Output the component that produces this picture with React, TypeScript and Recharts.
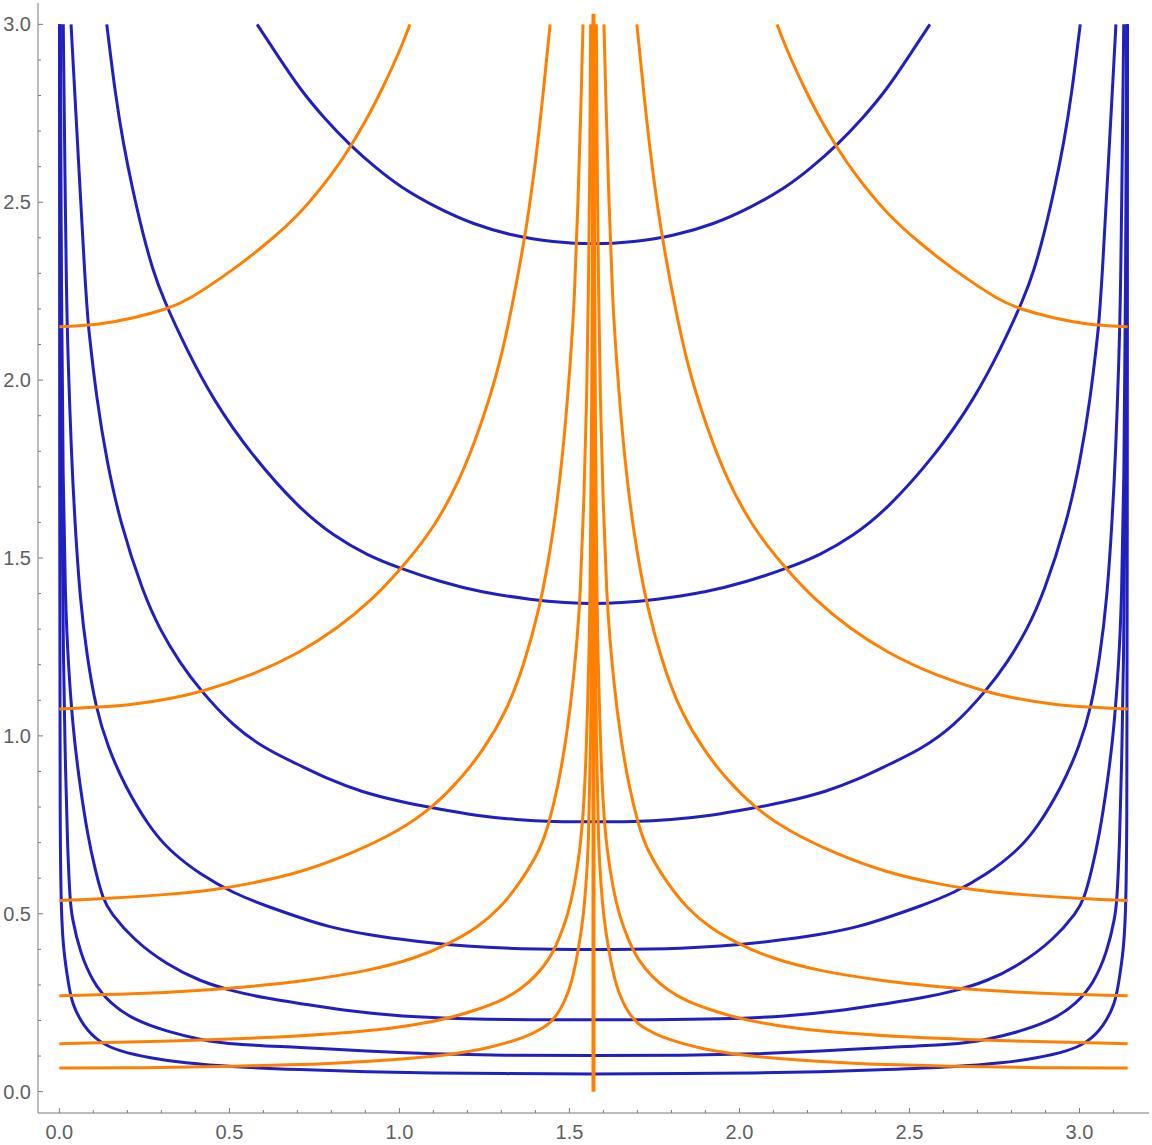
import React from 'react';
import { LineChart, Line, XAxis, YAxis } from 'recharts';

// ---------- axis ranges & ticks ----------
const X_DOMAIN: [number, number] = [-0.0628, 3.2044];
const Y_DOMAIN: [number, number] = [-0.06, 3.06];
const X_TICKS = [0, 0.1, 0.2, 0.3, 0.4, 0.5, 0.6, 0.7, 0.8, 0.9, 1.0, 1.1, 1.2, 1.3, 1.4, 1.5, 1.6, 1.7, 1.8, 1.9, 2.0, 2.1, 2.2, 2.3, 2.4, 2.5, 2.6, 2.7, 2.8, 2.9, 3.0, 3.1];
const Y_TICKS = [0, 0.1, 0.2, 0.3, 0.4, 0.5, 0.6, 0.7, 0.8, 0.9, 1.0, 1.1, 1.2, 1.3, 1.4, 1.5, 1.6, 1.7, 1.8, 1.9, 2.0, 2.1, 2.2, 2.3, 2.4, 2.5, 2.6, 2.7, 2.8, 2.9, 3.0];
const MAJOR_LABELS = ['0.0', '0.5', '1.0', '1.5', '2.0', '2.5', '3.0'];

// ---------- blue contours (x, y) ----------
const blue1 = [[0.0005,3.0],[0.001,1.5],[0.002,0.68],[0.006,0.5],[0.0118,0.399],[0.0265,0.305],[0.0365,0.249],[0.0706,0.1834],[0.1197,0.1368],[0.1785,0.1132],[0.2668,0.0947],[0.3647,0.0806],[0.5118,0.0694],[0.708,0.0618],[0.904,0.0553],[1.1,0.0525],[1.3,0.0505],[1.5708,0.0497],[1.8416,0.0505],[2.0416,0.0525],[2.2376,0.0553],[2.4336,0.0618],[2.6298,0.0694],[2.7769,0.0806],[2.8748,0.0947],[2.9631,0.1132],[3.0219,0.1368],[3.071,0.1834],[3.1051,0.249],[3.1151,0.305],[3.1298,0.399],[3.1356,0.5],[3.1396,0.68],[3.1406,1.5],[3.1411,3.0]];
const blue2 = [[0.0015,3.0],[0.004,2.2],[0.008,1.6],[0.012,1.2],[0.017,0.95],[0.0241,0.68],[0.0315,0.539],[0.0365,0.492],[0.0609,0.39],[0.1,0.305],[0.149,0.249],[0.2176,0.202],[0.316,0.169],[0.414,0.146],[0.512,0.132],[0.708,0.125],[0.904,0.1132],[1.1,0.1059],[1.296,0.102],[1.5708,0.101],[1.8456,0.102],[2.0416,0.1059],[2.2376,0.1132],[2.4336,0.125],[2.6296,0.132],[2.7276,0.146],[2.8256,0.169],[2.924,0.202],[2.9926,0.249],[3.0416,0.305],[3.0807,0.39],[3.1051,0.492],[3.1101,0.539],[3.1175,0.68],[3.1246,0.95],[3.1296,1.2],[3.1336,1.6],[3.1376,2.2],[3.1401,3.0]];
const blue3 = [[0.003,3.0],[0.006,2.225],[0.011,1.7],[0.0175,1.382],[0.0265,1.195],[0.0412,1.008],[0.0609,0.858],[0.083,0.722],[0.105,0.624],[0.129,0.539],[0.149,0.505],[0.2176,0.427],[0.316,0.357],[0.414,0.31],[0.512,0.282],[0.61,0.262],[0.708,0.248],[0.855,0.226],[1.002,0.2115],[1.198,0.204],[1.394,0.202],[1.5708,0.202],[1.7476,0.202],[1.9436,0.204],[2.1396,0.2115],[2.2866,0.226],[2.4336,0.248],[2.5316,0.262],[2.6296,0.282],[2.7276,0.31],[2.8256,0.357],[2.924,0.427],[2.9926,0.505],[3.0126,0.539],[3.0366,0.624],[3.0586,0.722],[3.0807,0.858],[3.1004,1.008],[3.1151,1.195],[3.1241,1.382],[3.1306,1.7],[3.1356,2.225],[3.1386,3.0]];
const blue4 = [[0.0115,3.0],[0.0205,2.225],[0.0265,2.037],[0.035,1.803],[0.0447,1.616],[0.0609,1.382],[0.0815,1.223],[0.1065,1.082],[0.1418,0.97],[0.1932,0.858],[0.2638,0.745],[0.3206,0.68],[0.414,0.61],[0.512,0.558],[0.61,0.521],[0.708,0.489],[0.7865,0.4643],[0.904,0.441],[1.051,0.422],[1.198,0.408],[1.345,0.401],[1.5708,0.399],[1.7966,0.401],[1.9436,0.408],[2.0906,0.422],[2.2376,0.441],[2.3551,0.4643],[2.4336,0.489],[2.5316,0.521],[2.6296,0.558],[2.7276,0.61],[2.821,0.68],[2.8778,0.745],[2.9484,0.858],[2.9998,0.97],[3.0351,1.082],[3.0601,1.223],[3.0807,1.382],[3.0969,1.616],[3.1066,1.803],[3.1151,2.037],[3.1211,2.225],[3.1301,3.0]];
const blue5 = [[0.0344,3.0],[0.0785,2.225],[0.0853,2.15],[0.11,1.944],[0.139,1.775],[0.1785,1.6],[0.247,1.4],[0.296,1.298],[0.355,1.204],[0.414,1.129],[0.512,1.026],[0.61,0.961],[0.708,0.917],[0.797,0.876],[0.884,0.844],[1.002,0.815],[1.1,0.797],[1.228,0.775],[1.345,0.764],[1.453,0.759],[1.5708,0.758],[1.6886,0.759],[1.7966,0.764],[1.9136,0.775],[2.0416,0.797],[2.1396,0.815],[2.2576,0.844],[2.3446,0.876],[2.4336,0.917],[2.5316,0.961],[2.6296,1.026],[2.7276,1.129],[2.7866,1.204],[2.8456,1.298],[2.8946,1.4],[2.9631,1.6],[3.0026,1.775],[3.0316,1.944],[3.0563,2.15],[3.0631,2.225],[3.1072,3.0]];
const blue6 = [[0.1394,3.0],[0.165,2.8],[0.188,2.665],[0.215,2.537],[0.247,2.405],[0.275,2.31],[0.303,2.234],[0.375,2.084],[0.453,1.944],[0.561,1.794],[0.708,1.636],[0.806,1.563],[0.904,1.508],[1.002,1.471],[1.12,1.433],[1.2374,1.404],[1.394,1.382],[1.49,1.374],[1.5708,1.371],[1.6516,1.374],[1.7476,1.382],[1.9042,1.404],[2.0216,1.433],[2.1396,1.471],[2.2376,1.508],[2.3356,1.563],[2.4336,1.636],[2.5806,1.794],[2.6886,1.944],[2.7666,2.084],[2.8386,2.234],[2.8666,2.31],[2.8946,2.405],[2.9266,2.537],[2.9536,2.665],[2.9766,2.8],[3.0022,3.0]];
const blue7 = [[0.5815,3.0],[0.64,2.915],[0.708,2.817],[0.78,2.735],[0.855,2.66],[0.93,2.597],[1.002,2.543],[1.11,2.484],[1.217,2.438],[1.335,2.405],[1.452,2.388],[1.5708,2.381],[1.6896,2.388],[1.8066,2.405],[1.9246,2.438],[2.0316,2.484],[2.1396,2.543],[2.2116,2.597],[2.2866,2.66],[2.3616,2.735],[2.4336,2.817],[2.5016,2.915],[2.5601,3.0]];

// ---------- orange contours (left and right branches) ----------
const orange1L = [[0,0.0666],[0.2176,0.0666],[0.4138,0.0694],[0.708,0.0758],[0.806,0.08],[0.904,0.085],[1.0512,0.0947],[1.1491,0.1039],[1.2471,0.1199],[1.3159,0.1368],[1.3747,0.1553],[1.4138,0.1742],[1.4403,0.191],[1.4629,0.215],[1.4844,0.2492],[1.5071,0.3053],[1.5265,0.3989],[1.5412,0.4924],[1.5491,0.5862],[1.5559,0.6798],[1.5624,0.9607],[1.5668,1.382],[1.5697,2.2247],[1.5703,3.0]];
const orange1R = [[1.5713,3.0],[1.5719,2.2247],[1.5748,1.382],[1.5792,0.9607],[1.5857,0.6798],[1.5925,0.5862],[1.6004,0.4924],[1.6151,0.3989],[1.6345,0.3053],[1.6572,0.2492],[1.6787,0.215],[1.7013,0.191],[1.7278,0.1742],[1.7669,0.1553],[1.8257,0.1368],[1.8945,0.1199],[1.9925,0.1039],[2.0904,0.0947],[2.2376,0.085],[2.3356,0.08],[2.4336,0.0758],[2.7278,0.0694],[2.924,0.0666],[3.1416,0.0666]];
const orange2L = [[0,0.1348],[0.3159,0.1413],[0.708,0.1553],[0.9041,0.1694],[1.0512,0.1882],[1.1491,0.207],[1.2276,0.2303],[1.2962,0.2537],[1.3547,0.2865],[1.4,0.3239],[1.4405,0.3708],[1.469,0.427],[1.494,0.4924],[1.513,0.5674],[1.5315,0.6798],[1.5423,0.8],[1.55,0.9607],[1.5579,1.2416],[1.5609,1.382],[1.5659,1.9438],[1.5685,2.5056],[1.5697,3.0]];
const orange2R = [[1.5719,3.0],[1.5731,2.5056],[1.5757,1.9438],[1.5807,1.382],[1.5837,1.2416],[1.5916,0.9607],[1.5993,0.8],[1.6101,0.6798],[1.6286,0.5674],[1.6476,0.4924],[1.6726,0.427],[1.7011,0.3708],[1.7416,0.3239],[1.7869,0.2865],[1.8454,0.2537],[1.914,0.2303],[1.9925,0.207],[2.0904,0.1882],[2.2375,0.1694],[2.4336,0.1553],[2.8257,0.1413],[3.1416,0.1348]];
const orange3L = [[0,0.2697],[0.2176,0.274],[0.4138,0.284],[0.5609,0.295],[0.708,0.3098],[0.9041,0.3379],[1.0512,0.3756],[1.1491,0.4177],[1.2276,0.4598],[1.2962,0.516],[1.3547,0.5862],[1.4138,0.6798],[1.4374,0.7452],[1.4668,0.8576],[1.4932,1.0076],[1.5109,1.148],[1.524,1.2885],[1.5312,1.382],[1.543,1.6629],[1.5509,1.9438],[1.5556,2.2247],[1.5606,2.646],[1.5624,3.0]];
const orange3R = [[1.5792,3.0],[1.581,2.646],[1.586,2.2247],[1.5907,1.9438],[1.5986,1.6629],[1.6104,1.382],[1.6176,1.2885],[1.6307,1.148],[1.6484,1.0076],[1.6748,0.8576],[1.7042,0.7452],[1.7278,0.6798],[1.7869,0.5862],[1.8454,0.516],[1.914,0.4598],[1.9925,0.4177],[2.0904,0.3756],[2.2375,0.3379],[2.4336,0.3098],[2.5807,0.295],[2.7278,0.284],[2.924,0.274],[3.1416,0.2697]];
const orange4L = [[0,0.5374],[0.1197,0.5413],[0.3159,0.5534],[0.4629,0.568],[0.5609,0.5845],[0.708,0.6155],[0.855,0.667],[1.002,0.734],[1.1,0.801],[1.1785,0.877],[1.2471,0.96],[1.3159,1.071],[1.3647,1.194],[1.4138,1.361],[1.4529,1.568],[1.4824,1.804],[1.5021,2.04],[1.515,2.2247],[1.5255,2.5056],[1.5345,2.7865],[1.54,3.0]];
const orange4R = [[1.6016,3.0],[1.6071,2.7865],[1.6161,2.5056],[1.6266,2.2247],[1.6395,2.04],[1.6592,1.804],[1.6887,1.568],[1.7278,1.361],[1.7769,1.194],[1.8257,1.071],[1.8945,0.96],[1.9631,0.877],[2.0416,0.801],[2.1396,0.734],[2.2866,0.667],[2.4336,0.6155],[2.5807,0.5845],[2.6787,0.568],[2.8257,0.5534],[3.0219,0.5413],[3.1416,0.5374]];
const orange5L = [[0,1.0758],[0.1197,1.0806],[0.2176,1.0875],[0.3353,1.106],[0.4138,1.123],[0.5609,1.168],[0.708,1.2335],[0.82,1.304],[0.9188,1.382],[1.002,1.4663],[1.1,1.581],[1.1785,1.72],[1.2374,1.865],[1.2962,2.045],[1.3353,2.225],[1.3747,2.43],[1.4041,2.64],[1.4238,2.815],[1.4432,3.0]];
const orange5R = [[1.6984,3.0],[1.7178,2.815],[1.7375,2.64],[1.7669,2.43],[1.8063,2.225],[1.8454,2.045],[1.9042,1.865],[1.9631,1.72],[2.0416,1.581],[2.1396,1.4663],[2.2228,1.382],[2.3216,1.304],[2.4336,1.2335],[2.5807,1.168],[2.7278,1.123],[2.8063,1.106],[2.924,1.0875],[3.0219,1.0806],[3.1416,1.0758]];
const orange6L = [[0,2.15],[0.1197,2.156],[0.2176,2.174],[0.316,2.2],[0.375,2.222],[0.512,2.31],[0.61,2.384],[0.708,2.466],[0.806,2.583],[0.855,2.654],[0.904,2.733],[0.953,2.825],[1.002,2.927],[1.031,3.0]];
const orange6R = [[2.1106,3.0],[2.1396,2.927],[2.1886,2.825],[2.2376,2.733],[2.2866,2.654],[2.3356,2.583],[2.4336,2.466],[2.5316,2.384],[2.6296,2.31],[2.7666,2.222],[2.8256,2.2],[2.924,2.174],[3.0219,2.156],[3.1416,2.15]];
const orangeCenter = [[1.5708,0],[1.5708,3.03]];

const BLUE_CURVES = [blue1, blue2, blue3, blue4, blue5, blue6, blue7];
const ORANGE_CURVES = [orange1L, orange1R, orange2L, orange2R, orange3L, orange3R, orange4L, orange4R, orange5L, orange5R, orange6L, orange6R];

const BLUE = '#2020c0';
const ORANGE = '#ff8000';
const FRAME = '#7a7a7a';
const LABEL = '#5f5f5f';
const FONT = "'Liberation Sans', Arial, sans-serif";

const toPts = (arr: number[][]) => arr.map(([x, y]) => ({ x, y }));

const isMajor = (v: number) => Math.abs(v * 2 - Math.round(v * 2)) < 1e-6;
const labelFor = (v: number) => MAJOR_LABELS[Math.round(v * 2)] ?? v.toFixed(1);

const MAJOR_LEN = 5;
const MINOR_LEN = 3;

const tickRenderer = (side: 'bottom' | 'top' | 'left' | 'right') => (props: any) => {
  const { x, y, payload } = props;
  const v: number = payload.value;
  const major = isMajor(v);
  const len = major ? MAJOR_LEN : MINOR_LEN;
  let line;
  let label = null;
  if (side === 'bottom') {
    line = <line x1={x} y1={y} x2={x} y2={y - len} stroke={FRAME} strokeWidth={1} />;
    if (major) label = <text x={x} y={y + 26} textAnchor="middle" fill={LABEL} fontSize={20} fontFamily={FONT}>{labelFor(v)}</text>;
  } else if (side === 'top') {
    line = <line x1={x} y1={y} x2={x} y2={y + len} stroke={FRAME} strokeWidth={1} />;
  } else if (side === 'left') {
    line = <line x1={x} y1={y} x2={x + len} y2={y} stroke={FRAME} strokeWidth={1} />;
    if (major) label = <text x={x - 7} y={y + 7} textAnchor="end" fill={LABEL} fontSize={20} fontFamily={FONT}>{labelFor(v)}</text>;
  } else {
    line = <line x1={x} y1={y} x2={x - len} y2={y} stroke={FRAME} strokeWidth={1} />;
  }
  return <g>{line}{label}</g>;
};

export default function App() {
  return (
    <div style={{ position: 'absolute', left: 0, top: 0, background: '#fff' }}>
      <LineChart width={1152} height={1145} margin={{ top: 3, right: 3, left: 0, bottom: 0 }}>
        <XAxis xAxisId="b" type="number" dataKey="x" orientation="bottom" domain={X_DOMAIN} ticks={X_TICKS} interval={0}
          allowDataOverflow height={32} axisLine={{ stroke: FRAME }} tickLine={false} tickSize={0} tickMargin={0} tick={tickRenderer('bottom')} />
        <XAxis xAxisId="t" type="number" dataKey="x" orientation="top" domain={X_DOMAIN} ticks={X_TICKS} interval={0}
          allowDataOverflow height={0} axisLine={{ stroke: FRAME }} tickLine={false} tickSize={0} tickMargin={0} tick={tickRenderer('top')} />
        <YAxis yAxisId="l" type="number" dataKey="y" orientation="left" domain={Y_DOMAIN} ticks={Y_TICKS} interval={0}
          allowDataOverflow width={38} axisLine={{ stroke: FRAME }} tickLine={false} tickSize={0} tickMargin={0} tick={tickRenderer('left')} />
        <YAxis yAxisId="r" type="number" dataKey="y" orientation="right" domain={Y_DOMAIN} ticks={Y_TICKS} interval={0}
          allowDataOverflow width={0} axisLine={{ stroke: FRAME }} tickLine={false} tickSize={0} tickMargin={0} tick={tickRenderer('right')} />
        {BLUE_CURVES.map((c, i) => (
          <Line key={'b' + i} xAxisId="b" yAxisId="l" data={toPts(c)} dataKey="y" type="basis" stroke={BLUE}
            strokeWidth={3} dot={false} activeDot={false} isAnimationActive={false} />
        ))}
        {ORANGE_CURVES.map((c, i) => (
          <Line key={'o' + i} xAxisId="b" yAxisId="l" data={toPts(c)} dataKey="y" type="basis" stroke={ORANGE}
            strokeWidth={3} dot={false} activeDot={false} isAnimationActive={false} />
        ))}
        <Line xAxisId="b" yAxisId="l" data={toPts(orangeCenter)} dataKey="y" type="linear" stroke={ORANGE}
          strokeWidth={4} dot={false} activeDot={false} isAnimationActive={false} />
      </LineChart>
    </div>
  );
}
